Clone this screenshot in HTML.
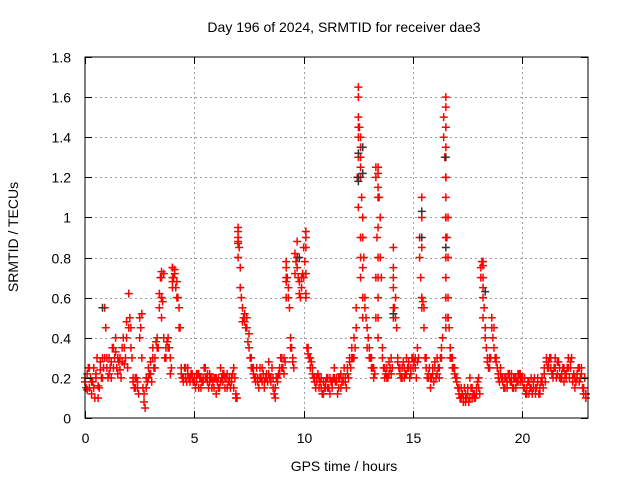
<!DOCTYPE html>
<html><head><meta charset="utf-8"><style>
html,body{margin:0;padding:0;background:#fff;}
svg{display:block;font-family:"Liberation Sans",sans-serif;}
</style></head><body>
<svg id="chart" width="640" height="480" viewBox="0 0 640 480" xmlns="http://www.w3.org/2000/svg">
<rect x="0" y="0" width="640" height="480" fill="#fff"/>
<text x="344" y="32" font-size="14" text-anchor="middle" fill="#000">Day 196 of 2024, SRMTID for receiver dae3</text>
<g id="grid"></g>
<g id="marks"></g>
<rect x="85" y="57" width="503" height="361" fill="none" stroke="#000" stroke-width="1"/>
<g id="ticks"></g>
<text x="344" y="471" font-size="14" text-anchor="middle">GPS time / hours</text>
<text x="18" y="237" font-size="14" text-anchor="middle" transform="rotate(-90 18 237)">SRMTID / TECUs</text>
</svg>
<script>
const xTicks = [0,5,10,15,20];
const yTicks = [0,0.2,0.4,0.6,0.8,1,1.2,1.4,1.6,1.8];
const yTickLabels = ["0","0.2","0.4","0.6","0.8","1","1.2","1.4","1.6","1.8"];
const timesA = [0,0.1,0.2,0.3,0.4,0.5,0.6,0.7,0.8,0.9,1,1.1,1.2,1.3,1.4,1.5,1.6,1.7,1.8,1.9,2,2.1,2.2,2.3,2.4,2.5,2.6,2.7,2.8,2.9,3,3.1,3.2,3.3,3.4,3.5,3.6,3.7,3.8,3.9,4,4.1,4.2,4.3,4.4,4.5,4.6,4.7,4.8,4.9,5,5.1,5.2,5.3,5.4,5.5,5.6,5.7,5.8,5.9,6,6.1,6.2,6.3,6.4,6.5,6.6,6.7,6.8,6.9,7,7.1,7.2,7.3,7.4,7.5,7.6,7.7,7.8,7.9,8,8.1,8.2,8.3,8.4,8.5,8.6,8.7,8.8,8.9,9,9.1,9.2,9.3,9.4,9.5,9.6,9.7,9.8,9.9,10,10.1,10.2,10.3,10.4,10.5,10.6,10.7,10.8,10.9,11,11.1,11.2,11.3,11.4,11.5,11.6,11.7,11.8,11.9,12,12.1,12.2,12.3,12.4,12.5,12.6,12.7,12.8,12.9,13,13.1,13.2,13.3,13.4,13.5,13.6,13.7,13.8,13.9,14,14.1,14.2,14.3,14.4,14.5,14.6,14.7,14.8,14.9,15,15.1,15.2,15.3,15.4,15.5,15.6,15.7,15.8,15.9,16,16.1,16.2,16.3,16.4,16.5,16.6,16.7,16.8,16.9,17,17.1,17.2,17.3,17.4,17.5,17.6,17.7,17.8,17.9,18,18.1,18.2,18.3,18.4,18.5,18.6,18.7,18.8,18.9,19,19.1,19.2,19.3,19.4,19.5,19.6,19.7,19.8,19.9,20,20.1,20.2,20.3,20.4,20.5,20.6,20.7,20.8,20.9,21,21.1,21.2,21.3,21.4,21.5,21.6,21.7,21.8,21.9,22,22.1,22.2,22.3,22.4,22.5,22.6,22.7,22.8,22.9];
const valuesA = [.18,.22,.15,.12,.25,.2,.1,.28,.3,.55,
.25,.3,.2,.35,.4,.22,.3,.28,.35,.48,
.62,.45,.2,.15,.18,.5,.52,.08,.2,.25,
.22,.35,.3,.4,.55,.7,.72,.35,.4,.3,
.75,.72,.68,.55,.22,.2,.25,.22,.18,.2,
.2,.18,.22,.15,.2,.25,.18,.22,.2,.15,
.12,.2,.25,.18,.15,.22,.2,.18,.25,.12,
.93,.75,.55,.48,.5,.42,.3,.22,.18,.2,
.25,.18,.15,.22,.28,.2,.15,.1,.2,.25,
.3,.22,.75,.65,.4,.3,.82,.75,.68,.65,
.85,.9,.35,.3,.25,.2,.18,.15,.2,.12,
.15,.2,.12,.18,.25,.2,.15,.22,.18,.2,
.25,.3,.35,.4,.55,1.6,1.35,1.0,.6,.45,
.35,.3,.2,.5,1.25,1.0,.3,.2,.25,.22,
.3,.75,.6,.28,.22,.25,.2,.3,.25,.22,
.3,.25,.35,.9,.6,.55,.25,.2,.15,.22,
.25,.3,.2,.35,1.5,1.2,.6,.35,.3,.25,
.2,.15,.1,.08,.12,.15,.2,.1,.12,.15,
.2,.75,.7,.45,.3,.25,.5,.45,.3,.2,
.25,.2,.15,.18,.2,.22,.15,.2,.18,.22,
.2,.15,.12,.18,.2,.15,.12,.18,.15,.2,
.22,.3,.28,.25,.2,.3,.22,.25,.2,.18,
.22,.3,.25,.2,.15,.2,.25,.22,.12,.1];
const valuesC = [.2,.14,.25,.18,.15,.22,.16,.24,.2,.3,
.3,.22,.28,.25,.33,.3,.24,.35,.27,.4,
.45,.35,.18,.2,.15,.4,.3,.12,.15,.2,
.28,.3,.25,.35,.62,.6,.4,.3,.35,.22,
.68,.74,.6,.45,.25,.18,.2,.25,.2,.22,
.18,.22,.15,.2,.18,.2,.22,.18,.15,.2,
.2,.15,.18,.22,.2,.15,.18,.2,.15,.1,
.88,.65,.48,.52,.45,.35,.25,.25,.2,.18,
.2,.25,.18,.2,.22,.18,.2,.15,.18,.22,
.25,.3,.68,.6,.35,.28,.72,.8,.62,.7,
.7,.62,.32,.25,.22,.18,.2,.2,.15,.18,
.18,.15,.2,.15,.2,.18,.2,.15,.2,.18,
.22,.28,.3,.3,.45,1.4,1.2,.9,.55,.35,
.3,.25,.25,.7,1.15,.8,.35,.25,.2,.28,
.22,.65,.5,.3,.25,.2,.25,.22,.28,.25,
.25,.3,.28,.8,.55,.45,.3,.22,.2,.25,
.28,.22,.25,.3,1.4,1.0,.5,.3,.25,.22,
.18,.12,.15,.1,.08,.12,.1,.15,.1,.12,
.15,.7,.65,.4,.28,.3,.45,.35,.28,.22,
.22,.18,.2,.15,.22,.18,.2,.15,.22,.18,
.18,.2,.15,.12,.15,.18,.15,.2,.12,.18,
.25,.28,.25,.3,.22,.25,.28,.2,.22,.25,
.2,.25,.28,.18,.2,.22,.18,.25,.15,.12];
const timesB = [0.05,0.15,0.25,0.35,0.45,0.55,0.65,0.75,0.85,0.95,1.05,1.15,1.25,1.35,1.45,1.55,1.65,1.75,1.85,1.95,2.05,2.15,2.25,2.35,2.45,2.55,2.65,2.75,2.85,2.95,3.05,3.15,3.25,3.35,3.45,3.55,3.65,3.75,3.85,3.95,4.05,4.15,4.25,4.35,4.45,4.55,4.65,4.75,4.85,4.95,5.05,5.15,5.25,5.35,5.45,5.55,5.65,5.75,5.85,5.95,6.05,6.15,6.25,6.35,6.45,6.55,6.65,6.75,6.85,6.95,7.05,7.15,7.25,7.35,7.45,7.55,7.65,7.75,7.85,7.95,8.05,8.15,8.25,8.35,8.45,8.55,8.65,8.75,8.85,8.95,9.05,9.15,9.25,9.35,9.45,9.55,9.65,9.75,9.85,9.95,10.05,10.15,10.25,10.35,10.45,10.55,10.65,10.75,10.85,10.95,11.05,11.15,11.25,11.35,11.45,11.55,11.65,11.75,11.85,11.95,12.05,12.15,12.25,12.35,12.45,12.55,12.65,12.75,12.85,12.95,13.05,13.15,13.25,13.35,13.45,13.55,13.65,13.75,13.85,13.95,14.05,14.15,14.25,14.35,14.45,14.55,14.65,14.75,14.85,14.95,15.05,15.15,15.25,15.35,15.45,15.55,15.65,15.75,15.85,15.95,16.05,16.15,16.25,16.35,16.45,16.55,16.65,16.75,16.85,16.95,17.05,17.15,17.25,17.35,17.45,17.55,17.65,17.75,17.85,17.95,18.05,18.15,18.25,18.35,18.45,18.55,18.65,18.75,18.85,18.95,19.05,19.15,19.25,19.35,19.45,19.55,19.65,19.75,19.85,19.95,20.05,20.15,20.25,20.35,20.45,20.55,20.65,20.75,20.85,20.95,21.05,21.15,21.25,21.35,21.45,21.55,21.65,21.75,21.85,21.95,22.05,22.15,22.25,22.35,22.45,22.55,22.65,22.75,22.85,22.9];
const valuesB = [.15,.25,.2,.18,.1,.3,.15,.2,.25,.45,
.2,.25,.35,.3,.25,.28,.2,.4,.3,.25,
.5,.3,.15,.2,.12,.45,.15,.05,.18,.22,
.18,.25,.38,.35,.7,.58,.3,.38,.35,.25,
.7,.65,.6,.45,.2,.25,.18,.2,.22,.18,
.15,.22,.2,.18,.25,.2,.15,.2,.18,.2,
.18,.15,.2,.22,.2,.18,.15,.22,.2,.1,
.85,.6,.5,.45,.38,.3,.25,.2,.25,.15,
.2,.22,.2,.18,.2,.25,.12,.2,.22,.3,
.25,.28,.7,.55,.35,.25,.78,.7,.6,.72,
.78,.35,.3,.28,.2,.15,.22,.18,.12,.15,
.2,.15,.18,.2,.18,.12,.2,.18,.25,.15,
.2,.25,.3,.35,1.2,1.45,1.1,.8,.5,.4,
.3,.25,.22,.9,1.1,.7,.25,.22,.2,.25,
.25,.55,.45,.25,.2,.28,.22,.25,.2,.3,
.28,.2,.3,.7,.58,.3,.2,.25,.2,.18,
.2,.25,.3,.4,1.3,.9,.45,.3,.25,.2,
.15,.1,.12,.15,.1,.08,.15,.12,.1,.18,
.12,.78,.55,.35,.25,.3,.4,.3,.25,.18,
.2,.15,.2,.22,.18,.15,.2,.18,.22,.2,
.15,.12,.18,.15,.12,.2,.15,.12,.18,.15,
.18,.25,.3,.22,.25,.2,.28,.2,.25,.22,
.25,.2,.3,.22,.18,.25,.2,.15,.2,.12];
const spikeTimes = [12.5,12.5,12.5,12.5,12.5,12.5,12.6,12.6,12.6,12.6,12.6,12.6,12.7,12.7,12.7,12.7,12.7,13.4,13.4,13.4,13.4,13.4,13.4,13.4,13.4,14.1,14.1,14.1,14.1,15.4,15.4,15.4,15.4,16.5,16.5,16.5,16.5,16.5,16.5,16.5,16.5,16.5,16.5,16.5,16.5,16.5,16.6,16.6,16.6,7.0,7.0,7.0,7.0,4.0,4.0,4.0,3.5,3.5,3.5,9.2,9.2,9.2,9.7,9.7,10.1,10.1,10.1,10.1,18.2,18.2,18.2,18.2,13.3,13.3];
const spikeValues = [1.65,1.5,1.45,1.3,1.2,1.05,1.4,1.3,1.25,.9,.8,.7,1.0,.9,.75,.6,.5,1.22,1.1,.95,.8,.7,.6,.5,.4,.85,.7,.55,.5,1.1,1.0,.85,.6,1.6,1.55,1.45,1.35,1.2,1.1,1.0,.9,.8,.7,.6,.5,.45,1.0,.8,.5,.95,.9,.87,.8,.75,.7,.65,.73,.6,.5,.78,.7,.6,.88,.8,.93,.85,.72,.6,.78,.76,.6,.5,1.25,1.2];
const blackTimes = [12.5,12.5,12.5,12.7,12.7,15.4,15.4,16.5,16.5,0.8,14.1,9.8,18.3];
const blackValues = [1.32,1.2,1.18,1.35,1.22,1.03,.9,1.3,.85,.55,.52,.8,.63];

const X0=85, X1=588, Y0=418, Y1=57, XMAX=23, YMAX=1.8;
function xs(t){return X0+(X1-X0)*t/XMAX;}
function ys(v){return Y0-(Y0-Y1)*v/YMAX;}
const NS="http://www.w3.org/2000/svg";
const grid=document.getElementById('grid'), ticks=document.getElementById('ticks'), marks=document.getElementById('marks');
function line(p,x1,y1,x2,y2,st,dash){const l=document.createElementNS(NS,'line');l.setAttribute('x1',x1);l.setAttribute('y1',y1);l.setAttribute('x2',x2);l.setAttribute('y2',y2);l.setAttribute('stroke',st);l.setAttribute('stroke-width',1);if(dash)l.setAttribute('stroke-dasharray',dash);p.appendChild(l);return l;}
xTicks.forEach(t=>{const x=Math.round(xs(t))+0.5;
 if(t>0){const g=line(grid,x,Y1,x,Y0,'#a0a0a0','2,3');
 
 }
 line(ticks,x,Y0,x,Y0-7,'#000');line(ticks,x,Y1,x,Y1+7,'#000');
 const tx=document.createElementNS(NS,'text');tx.setAttribute('x',x);tx.setAttribute('y',Y0+25);tx.setAttribute('font-size','14');tx.setAttribute('text-anchor','middle');tx.textContent=String(t);
 
 
 ticks.appendChild(tx);});
yTicks.forEach((v,i)=>{const y=Math.round(ys(v))+0.5;
 if(v>0&&v<YMAX){const g=line(grid,X0,y,X1,y,'#a0a0a0','2,3');
 
 }
 line(ticks,X0,y,X0+7,y,'#000');line(ticks,X1,y,X1-7,y,'#000');
 const tx=document.createElementNS(NS,'text');tx.setAttribute('x',X0-14);tx.setAttribute('y',y+5);tx.setAttribute('font-size','14');tx.setAttribute('text-anchor','end');tx.textContent=yTickLabels[i];
 
 
 ticks.appendChild(tx);});
function plus(t,v,col){const x=xs(t),y=ys(v);const p=document.createElementNS(NS,'path');
 p.setAttribute('d',`M${x-4},${y}H${x+4}M${x},${y-4}V${y+4}`);p.setAttribute('stroke',col);p.setAttribute('stroke-width','1.5');p.setAttribute('fill','none');
 
 
 marks.appendChild(p);}
timesA.forEach((t,i)=>plus(t,valuesA[i],'#ff0000'));
timesA.forEach((t,i)=>plus(t,valuesC[i],'#ff0000'));
timesB.forEach((t,i)=>plus(t,valuesB[i],'#ff0000'));
spikeTimes.forEach((t,i)=>plus(t,spikeValues[i],'#ff0000'));
blackTimes.forEach((t,i)=>plus(t,blackValues[i],'#333'));
</script>
</body></html>
